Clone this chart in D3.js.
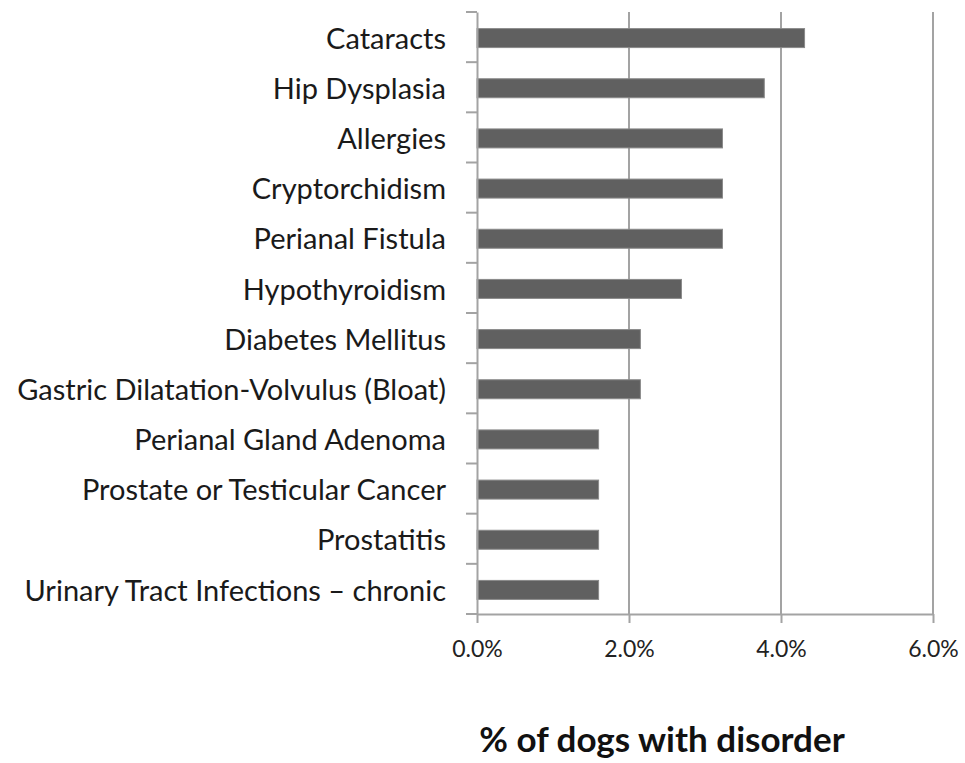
<!DOCTYPE html>
<html>
<head>
<meta charset="utf-8">
<script src="https://cdn.jsdelivr.net/npm/d3@7"></script>
<style>
  body { margin: 0; background: #fff; }
  svg { display: block; }
  .cat text { font-family: Lato, "Open Sans", sans-serif; font-size: 29px; fill: #1a1a1a; }
  .xax text { font-family: Lato, "Open Sans", sans-serif; font-size: 23px; fill: #222; }
</style>
</head>
<body>
<svg id="chart" width="965" height="763"></svg>
<script>
var categories = [
  'Cataracts',
  'Hip Dysplasia',
  'Allergies',
  'Cryptorchidism',
  'Perianal Fistula',
  'Hypothyroidism',
  'Diabetes Mellitus',
  'Gastric Dilatation-Volvulus (Bloat)',
  'Perianal Gland Adenoma',
  'Prostate or Testicular Cancer',
  'Prostatitis',
  'Urinary Tract Infections \u2013 chronic'
];
var percents = [4.31, 3.78, 3.23, 3.23, 3.23, 2.69, 2.15, 2.15, 1.6, 1.6, 1.6, 1.6];
var xTicks = [0, 2, 4, 6];
var axisTitle = '% of dogs with disorder';

(function() {
  var svg = d3.select('#chart');
  var plotLeft = 477, plotRight = 933, plotTop = 12, plotBottom = 614;
  var barH = 19;
  var gridColor = '#a3a3a3';

  var x = d3.scaleLinear().domain([0, 6]).range([plotLeft, plotRight]);
  var y = d3.scaleBand().domain(categories).range([plotTop, plotBottom]).padding(0);

  // gridlines
  svg.append('g')
    .selectAll('line')
    .data(xTicks.filter(function(d) { return d > 0; }))
    .join('line')
      .attr('x1', function(d) { return x(d); })
      .attr('x2', function(d) { return x(d); })
      .attr('y1', plotTop)
      .attr('y2', plotBottom)
      .attr('stroke', gridColor)
      .attr('stroke-width', 2)
  ;

  // bars
  svg.append('g')
    .selectAll('rect')
    .data(categories)
    .join('rect')
      .attr('x', x(0))
      .attr('y', function(d) { return y(d) + (y.bandwidth() - barH) / 2 + 1; })
      .attr('width', function(d, i) { return x(percents[i]) - x(0); })
      .attr('height', barH)
      .attr('fill', '#606060')
      .attr('stroke', '#8a8a8a')
      .attr('stroke-width', 1)
  ;

  // x axis
  var xAxis = svg.append('g')
    .attr('class', 'xax')
    .attr('transform', 'translate(0,' + plotBottom + ')')
    .call(d3.axisBottom(x)
      .tickValues(xTicks)
      .tickFormat(function(d) { return d.toFixed(1) + '%'; })
      .tickSize(9)
      .tickSizeOuter(0)
      .tickPadding(18))
  ;
  xAxis.select('.domain').attr('stroke', gridColor).attr('stroke-width', 2);
  xAxis.selectAll('.tick line').attr('stroke', gridColor).attr('stroke-width', 2);

  // y axis: labels at band centres, ticks at band boundaries
  var yAxis = svg.append('g')
    .attr('class', 'cat')
    .attr('transform', 'translate(' + plotLeft + ',0)')
    .call(d3.axisLeft(y).tickSize(0).tickPadding(31))
  ;
  yAxis.select('.domain').attr('stroke', gridColor).attr('stroke-width', 2);
  yAxis.selectAll('.tick text').attr('dy', '0.4em');

  var bounds = categories.map(function(c) { return y(c); }).concat([plotBottom]);
  svg.append('g')
    .selectAll('line')
    .data(bounds)
    .join('line')
      .attr('x1', plotLeft - 11)
      .attr('x2', plotLeft)
      .attr('y1', function(d) { return d; })
      .attr('y2', function(d) { return d; })
      .attr('stroke', gridColor)
      .attr('stroke-width', 2)
  ;

  svg.append('text')
    .attr('x', 662)
    .attr('y', 752)
    .attr('text-anchor', 'middle')
    .style('font-family', 'Lato, "Open Sans", sans-serif')
    .style('font-weight', 'bold')
    .style('font-size', '35px')
    .style('fill', '#111')
    .text(axisTitle)
  ;
})();
</script>
</body>
</html>
